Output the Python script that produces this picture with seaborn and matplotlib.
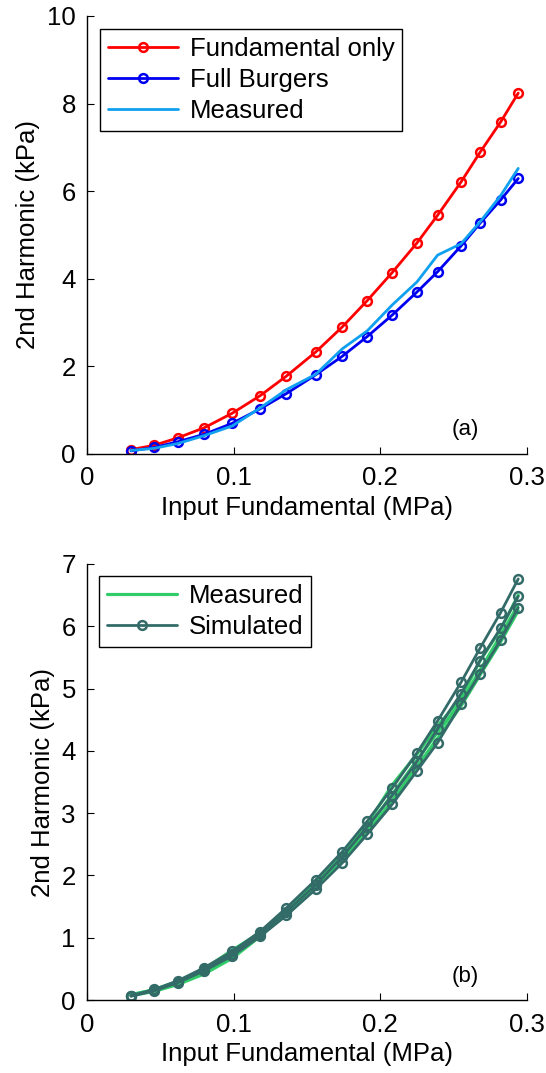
import numpy as np
import pandas as pd
import matplotlib
matplotlib.use("Agg")
import matplotlib.pyplot as plt
import seaborn as sns

# ---- data ----
x_fund = [0.030, 0.046, 0.062, 0.080, 0.099, 0.118, 0.136, 0.156, 0.174,
          0.191, 0.208, 0.225, 0.239, 0.255, 0.268, 0.282, 0.294]

fundamental_only = [0.10, 0.20, 0.37, 0.60, 0.93, 1.33, 1.78, 2.33, 2.90,
                    3.50, 4.14, 4.82, 5.45, 6.21, 6.89, 7.58, 8.24]
full_burgers = [0.07, 0.15, 0.28, 0.45, 0.70, 1.03, 1.38, 1.81, 2.23,
                2.68, 3.17, 3.70, 4.16, 4.75, 5.27, 5.80, 6.29]
measured_a = [0.08, 0.13, 0.24, 0.42, 0.64, 1.05, 1.47, 1.82, 2.40,
              2.81, 3.40, 3.93, 4.54, 4.80, 5.30, 5.90, 6.52]

measured_b1 = [0.08, 0.17, 0.30, 0.50, 0.80, 1.08, 1.45, 1.88, 2.35,
               2.82, 3.45, 3.95, 4.40, 4.85, 5.45, 5.95, 6.50]
measured_b2 = [0.07, 0.14, 0.25, 0.42, 0.67, 1.02, 1.40, 1.82, 2.28,
               2.75, 3.30, 3.85, 4.30, 4.78, 5.30, 5.85, 6.35]
measured_b3 = [0.09, 0.16, 0.27, 0.45, 0.72, 1.05, 1.37, 1.80, 2.22,
               2.68, 3.20, 3.75, 4.20, 4.72, 5.22, 5.75, 6.25]
simulated_b1 = [0.07, 0.17, 0.31, 0.52, 0.78, 1.10, 1.48, 1.93, 2.38,
                2.87, 3.40, 3.97, 4.48, 5.10, 5.65, 6.22, 6.76]
simulated_b2 = [0.07, 0.16, 0.29, 0.49, 0.74, 1.06, 1.42, 1.85, 2.30,
                2.78, 3.28, 3.83, 4.35, 4.92, 5.45, 5.97, 6.48]
simulated_b3 = [0.06, 0.15, 0.28, 0.47, 0.71, 1.02, 1.36, 1.78, 2.20,
                2.66, 3.14, 3.68, 4.13, 4.75, 5.24, 5.78, 6.30]

x_ticks = [0, 0.1, 0.2, 0.3]
x_ticklabels = ["0", "0.1", "0.2", "0.3"]
top_yticks = [0, 2, 4, 6, 8, 10]
bottom_yticks = [0, 1, 2, 3, 4, 5, 6, 7]

# ---- style ----
sns.set_style("ticks")
plt.rcParams["font.family"] = ["Liberation Sans", "DejaVu Sans"]
plt.rcParams["xtick.direction"] = "in"
plt.rcParams["ytick.direction"] = "in"
plt.rcParams["axes.linewidth"] = 1.0
plt.rcParams["text.color"] = "black"
plt.rcParams["axes.labelcolor"] = "black"
plt.rcParams["xtick.color"] = "black"
plt.rcParams["ytick.color"] = "black"
FS = 18.5

RED = "#ff0000"
BLUE = "#0000f0"
CYAN = "#10a0f0"
GREEN = "#30cc68"
TEAL = "#336b69"

fig = plt.figure(figsize=(5.46, 10.73), dpi=100)
ax1 = fig.add_axes([0.1593, 0.5769, 0.806, 0.4082])
ax2 = fig.add_axes([0.1593, 0.0680, 0.806, 0.4064])

mk = dict(marker="o", markersize=6.3, markerfacecolor="none", markeredgewidth=1.8)

sns.lineplot(x=x_fund, y=fundamental_only, ax=ax1, color=RED, lw=2.0,
             markeredgecolor=RED, label="Fundamental only", **mk)
sns.lineplot(x=x_fund, y=full_burgers, ax=ax1, color=BLUE, lw=2.0,
             markeredgecolor=BLUE, label="Full Burgers", **mk)
sns.lineplot(x=x_fund, y=measured_a, ax=ax1, color=CYAN, lw=2.0,
             label="Measured")

for i, m in enumerate([measured_b1, measured_b2, measured_b3]):
    sns.lineplot(x=x_fund, y=m, ax=ax2, color=GREEN, lw=2.3,
                 label="Measured" if i == 0 else None)
for i, s in enumerate([simulated_b1, simulated_b2, simulated_b3]):
    sns.lineplot(x=x_fund, y=s, ax=ax2, color=TEAL, lw=2.0,
                 markeredgecolor=TEAL, label="Simulated" if i == 0 else None, **mk)

for ax, yt, ylim, tag, lb in [(ax1, top_yticks, (0, 10), "(a)", (0.0295, 0.970)),
                              (ax2, bottom_yticks, (0, 7), "(b)", (0.027, 0.972))]:
    ax.set_xlim(0, 0.3)
    ax.set_ylim(*ylim)
    ax.set_xticks(x_ticks)
    ax.set_xticklabels(x_ticklabels)
    ax.set_yticks(yt)
    ax.tick_params(labelsize=FS, length=5, width=0.8, colors="black")
    ax.tick_params(axis="x", pad=9)
    ax.tick_params(axis="y", pad=8)
    ax.set_xlabel("Input Fundamental (MPa)", fontsize=FS, labelpad=4)
    ax.set_ylabel("2nd Harmonic (kPa)", fontsize=FS, labelpad=5)
    sns.despine(ax=ax)
    for sp in ("left", "bottom"):
        ax.spines[sp].set_color("black")
    ax.text(0.2577, ylim[1] * 0.055, tag, fontsize=16, ha="center", va="center")
    leg = ax.legend(loc="upper left", bbox_to_anchor=lb, borderaxespad=0,
                    fontsize=FS, fancybox=False, framealpha=1, edgecolor="black",
                    handlelength=2.75, handletextpad=0.45, labelspacing=0.28,
                    borderpad=0.3)
    leg.get_frame().set_linewidth(1.0)

fig.savefig("out.png", dpi=100)
